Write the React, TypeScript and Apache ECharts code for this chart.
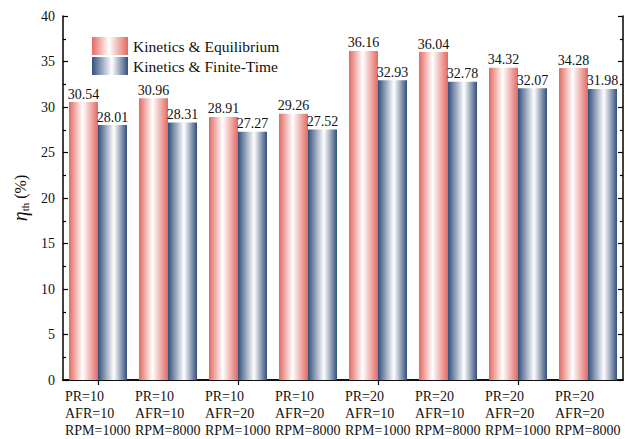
import React, { useEffect, useRef } from "react";
import * as echarts from "echarts";

const categories = [
  "PR=10\nAFR=10\nRPM=1000",
  "PR=10\nAFR=10\nRPM=8000",
  "PR=10\nAFR=20\nRPM=1000",
  "PR=10\nAFR=20\nRPM=8000",
  "PR=20\nAFR=10\nRPM=1000",
  "PR=20\nAFR=10\nRPM=8000",
  "PR=20\nAFR=20\nRPM=1000",
  "PR=20\nAFR=20\nRPM=8000",
];
const equilibrium = [30.54, 30.96, 28.91, 29.26, 36.16, 36.04, 34.32, 34.28];
const finiteTime = [28.01, 28.31, 27.27, 27.52, 32.93, 32.78, 32.07, 31.98];
const seriesNames = ["Kinetics & Equilibrium", "Kinetics & Finite-Time"];

const FONT = "Liberation Serif";

const grad = (c: string, mid: number) =>
  new echarts.graphic.LinearGradient(0, 0, 1, 0, [
    { offset: 0, color: c },
    { offset: mid, color: "#ffffff" },
    { offset: 1, color: c },
  ]);

export default function App() {
  const ref = useRef<HTMLDivElement>(null);
  useEffect(() => {
    if (!ref.current) return;
    const chart = echarts.init(ref.current, undefined, { renderer: "svg" });
    const axisLine = { show: true, lineStyle: { color: "#000", width: 1.5 } };
    const yCommon = {
      type: "value" as const,
      min: 0,
      max: 40,
      interval: 5,
      axisLine,
      splitLine: { show: false },
      axisTick: { show: true, inside: true, length: 5, lineStyle: { color: "#000", width: 1.2 } },
      minorTick: { show: true, splitNumber: 2, length: 3, lineStyle: { color: "#000", width: 1.2 } },
    };
    const xCommon = {
      type: "category" as const,
      data: categories,
      axisLine,
      axisTick: { show: true, inside: true, alignWithLabel: true, length: 5, lineStyle: { color: "#000", width: 1.2 } },
    };
    chart.setOption({
      animation: false,
      backgroundColor: "#ffffff",
      textStyle: { fontFamily: FONT },
      grid: { left: 63, right: 11, top: 16, bottom: 59, containLabel: false, outerBoundsMode: "none" },
      legend: {
        orient: "vertical",
        left: 87,
        top: 32,
        itemWidth: 36,
        itemHeight: 18,
        itemGap: 2,
        icon: "rect",
        textStyle: { fontFamily: FONT, fontSize: 15.5, color: "#111" },
        data: seriesNames,
      },
      xAxis: [
        {
          ...xCommon,
          position: "bottom",
          axisLabel: {
            interval: 0,
            hideOverlap: false,
            margin: 8,
            fontFamily: FONT,
            fontSize: 14,
            color: "#111",
            lineHeight: 17,
            formatter: (v: string) =>
              v
                .split("\n")
                .map((s) => `{a|${s}}`)
                .join("\n"),
            rich: {
              a: { width: 66, align: "left", fontFamily: FONT, fontSize: 14, color: "#111", lineHeight: 17 },
            },
          },
        },
        {
          ...xCommon,
          position: "top",
          axisLabel: { show: false },
        },
      ],
      yAxis: [
        {
          ...yCommon,
          position: "left",
          name: "{eta|η}{sub|th}{p| (%)}",
          nameLocation: "middle",
          nameRotate: 90,
          nameGap: 30,
          nameTextStyle: {
            rich: {
              eta: { fontFamily: FONT, fontSize: 20, fontStyle: "italic", color: "#111" },
              sub: { fontFamily: FONT, fontSize: 11, color: "#111", padding: [9, 0, 0, 0] },
              p: { fontFamily: FONT, fontSize: 16, color: "#111" },
            },
          },
          axisLabel: { margin: 8, fontFamily: FONT, fontSize: 14, color: "#111" },
        },
        {
          ...yCommon,
          position: "right",
          axisLabel: { show: false },
        },
      ],
      series: [
        {
          name: seriesNames[0],
          type: "bar",
          data: equilibrium,
          barWidth: 29,
          barGap: "0%",
          itemStyle: { color: grad("#e26a62", 0.47) },
          label: {
            show: true,
            position: "top",
            distance: 1,
            fontFamily: FONT,
            fontSize: 14,
            color: "#111",
            formatter: (p: any) => p.value.toFixed(2),
          },
        },
        {
          name: seriesNames[1],
          type: "bar",
          data: finiteTime,
          barWidth: 29,
          barGap: "0%",
          itemStyle: { color: grad("#34507c", 0.55) },
          label: {
            show: true,
            position: "top",
            distance: 1,
            fontFamily: FONT,
            fontSize: 14,
            color: "#111",
            formatter: (p: any) => p.value.toFixed(2),
          },
        },
      ],
    });
    return () => chart.dispose();
  }, []);
  return <div ref={ref} style={{ width: 634, height: 439, position: "absolute", left: 0, top: 0 }} />;
}
